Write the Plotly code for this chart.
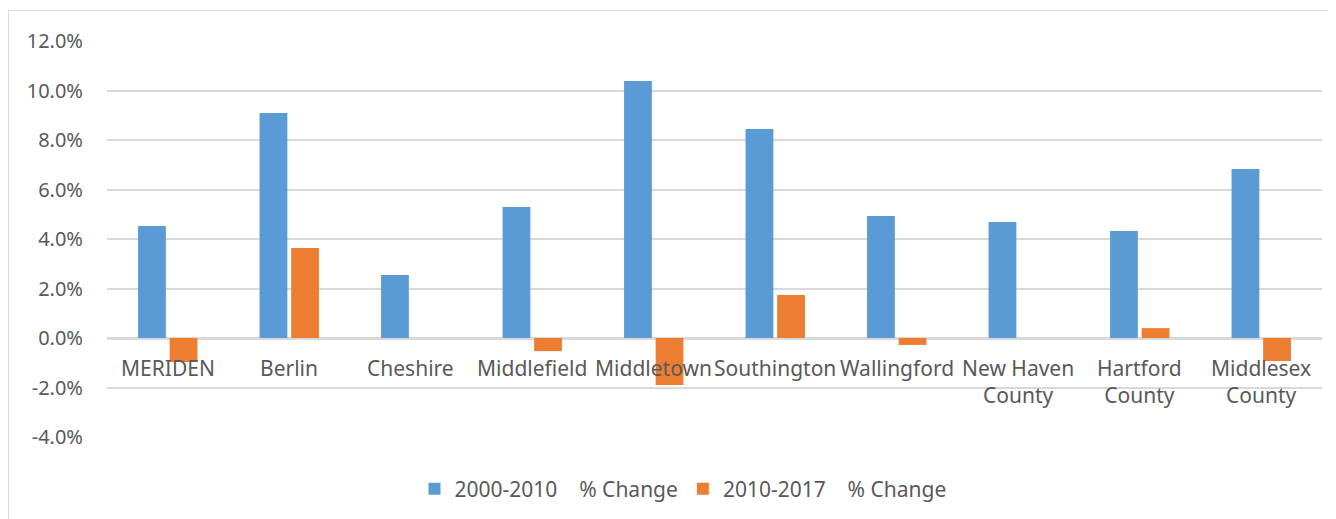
import plotly.graph_objects as go

# data
towns = ["MERIDEN", "Berlin", "Cheshire", "Middlefield", "Middletown", "Southington",
         "Wallingford", "New Haven<br>County", "Hartford<br>County", "Middlesex<br>County"]
chg_2000_2010 = [4.53, 9.09, 2.55, 5.29, 10.38, 8.44, 4.93, 4.69, 4.32, 6.83]
chg_2010_2017 = [-0.97, 3.64, 0.0, -0.53, -1.90, 1.74, -0.28, 0.0, 0.40, -0.93]
y_ticks = [-4, -2, 0, 2, 4, 6, 8, 10, 12]

# page has an 8px body margin, so the figure is a bit smaller than the window
W, H = 1328, 511
L, R, T, B = 99, 14, 33, 82
FONT = "Noto Sans"
GREY = "#595959"

fig = go.Figure()
fig.add_trace(go.Bar(x=list(range(len(towns))), y=chg_2000_2010,
                     name="2000-2010\u00a0\u00a0\u00a0\u00a0% Change",
                     marker=dict(color="#5B9BD5", line=dict(width=0))))
fig.add_trace(go.Bar(x=list(range(len(towns))), y=chg_2010_2017,
                     name="2010-2017\u00a0\u00a0\u00a0\u00a0% Change",
                     marker=dict(color="#ED7D31", line=dict(width=0))))

# category labels sit inside the plot, just under the zero line
for i, t in enumerate(towns):
    fig.add_annotation(x=i, y=0, xref="x", yref="y", text=t, showarrow=False,
                       yanchor="top", yshift=-14, font=dict(family=FONT, size=21, color=GREY))

pw = W - L - R
ph = H - T - B
# light border around the chart
fig.add_shape(type="rect", xref="paper", yref="paper",
              x0=(0.5 - L) / pw, x1=(W - 3 - L) / pw,
              y0=-(B + 5) / ph, y1=1 + (T - 2.5) / ph,
              line=dict(color="#D9D9D9", width=1), fillcolor="rgba(0,0,0,0)", layer="below")

fig.update_layout(
    width=W, height=H,
    margin=dict(l=L, r=R, t=T, b=B, autoexpand=False),
    paper_bgcolor="white", plot_bgcolor="white",
    barmode="group", bargap=0.48, bargroupgap=0.12,
    font=dict(family=FONT, color=GREY),
    showlegend=True,
    legend=dict(orientation="h", xref="container", yref="container",
                x=675 / W, xanchor="center", y=(H - 481) / H, yanchor="middle",
                font=dict(family=FONT, size=21, color=GREY), itemwidth=30),
)
fig.update_xaxes(range=[-0.5, len(towns) - 0.5], showticklabels=False, showgrid=False,
                 zeroline=False, showline=False, automargin=False)
fig.update_yaxes(range=[-4, 12], tickvals=y_ticks,
                 ticktext=[f"{v:.1f}%" for v in y_ticks],
                 tickfont=dict(family=FONT, size=20, color=GREY),
                 showgrid=True, gridcolor="#D9D9D9", gridwidth=1.5,
                 zeroline=True, zerolinecolor="#D9D9D9", zerolinewidth=3,
                 ticklabelstandoff=23, automargin=False)

fig.write_html("out.html")
